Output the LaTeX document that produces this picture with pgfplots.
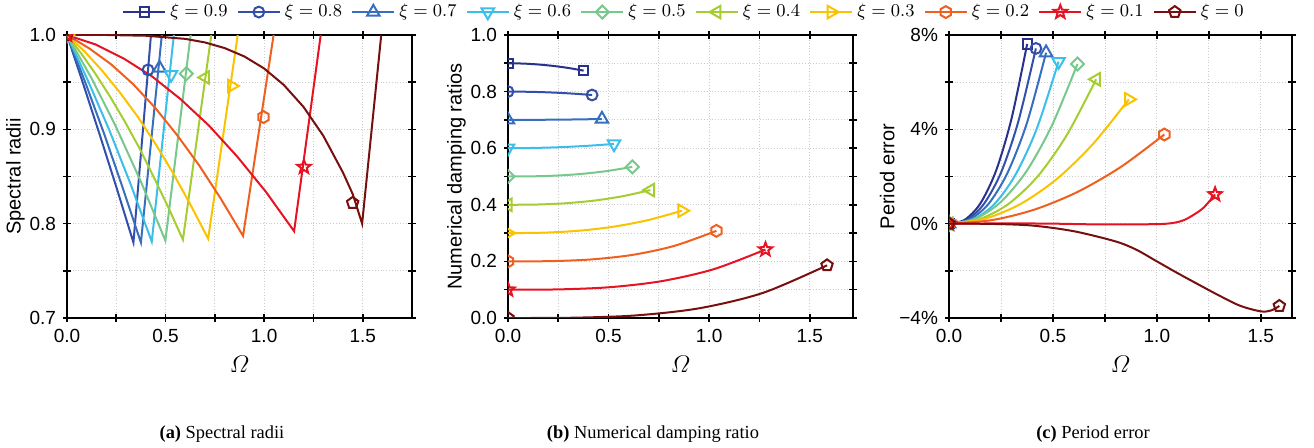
\documentclass[border=0pt]{standalone}
\usepackage{amsmath}
\usepackage{pgfplots}
\pgfplotsset{compat=1.18}
\usepackage{fontspec}
\setmainfont{Liberation Sans}
\newfontfamily\capfont{Liberation Serif}
\usetikzlibrary{plotmarks}

\definecolor{c09}{RGB}{40,50,140}
\definecolor{c08}{RGB}{50,80,170}
\definecolor{c07}{RGB}{55,110,190}
\definecolor{c06}{RGB}{60,190,235}
\definecolor{c05}{RGB}{120,200,140}
\definecolor{c04}{RGB}{165,205,50}
\definecolor{c03}{RGB}{250,195,0}
\definecolor{c02}{RGB}{240,95,30}
\definecolor{c01}{RGB}{230,20,35}
\definecolor{c00}{RGB}{120,15,15}

\pgfdeclareplotmark{hexagon}{%
  \pgfpathmoveto{\pgfpointpolar{90}{1.1\pgfplotmarksize}}%
  \pgfpathlineto{\pgfpointpolar{150}{1.1\pgfplotmarksize}}%
  \pgfpathlineto{\pgfpointpolar{210}{1.1\pgfplotmarksize}}%
  \pgfpathlineto{\pgfpointpolar{270}{1.1\pgfplotmarksize}}%
  \pgfpathlineto{\pgfpointpolar{330}{1.1\pgfplotmarksize}}%
  \pgfpathlineto{\pgfpointpolar{30}{1.1\pgfplotmarksize}}%
  \pgfpathclose\pgfusepathqstroke}
\pgfdeclareplotmark{ostar}{%
  \pgfpathmoveto{\pgfpointpolar{90}{1.3\pgfplotmarksize}}%
  \pgfpathlineto{\pgfpointpolar{126}{0.55\pgfplotmarksize}}%
  \pgfpathlineto{\pgfpointpolar{162}{1.3\pgfplotmarksize}}%
  \pgfpathlineto{\pgfpointpolar{198}{0.55\pgfplotmarksize}}%
  \pgfpathlineto{\pgfpointpolar{234}{1.3\pgfplotmarksize}}%
  \pgfpathlineto{\pgfpointpolar{270}{0.55\pgfplotmarksize}}%
  \pgfpathlineto{\pgfpointpolar{306}{1.3\pgfplotmarksize}}%
  \pgfpathlineto{\pgfpointpolar{342}{0.55\pgfplotmarksize}}%
  \pgfpathlineto{\pgfpointpolar{18}{1.3\pgfplotmarksize}}%
  \pgfpathlineto{\pgfpointpolar{54}{0.55\pgfplotmarksize}}%
  \pgfpathclose\pgfusepathqstroke}

\pgfplotsset{
  s9/.style={c09, line width=1pt, mark=square, mark size=2.3pt, mark options={solid, fill=none}},
  s8/.style={c08, line width=1pt, mark=o, mark size=2.7pt, mark options={solid, fill=none}},
  s7/.style={c07, line width=1pt, mark=triangle, mark size=3.6pt, mark options={solid, fill=none}},
  s6/.style={c06, line width=1pt, mark=triangle, mark size=3.6pt, mark options={solid, fill=none, rotate=180}},
  s5/.style={c05, line width=1pt, mark=square, mark size=2.3pt, mark options={solid, fill=none, rotate=45}},
  s4/.style={c04, line width=1pt, mark=triangle, mark size=3.6pt, mark options={solid, fill=none, rotate=90}},
  s3/.style={c03, line width=1pt, mark=triangle, mark size=3.6pt, mark options={solid, fill=none, rotate=-90}},
  s2/.style={c02, line width=1pt, mark=hexagon, mark size=2.7pt, mark options={solid, fill=none}},
  s1/.style={c01, line width=1pt, mark=ostar, mark size=2.7pt, mark options={solid, fill=none}},
  s0/.style={c00, line width=1pt, mark=pentagon, mark size=3pt, mark options={solid, fill=none}},
  myaxis/.style={
    scale only axis, width=172.5pt, height=141.5pt, anchor=south west,
    axis line style={line width=1pt},
    grid=both,
    grid style={densely dotted, gray!40, line width=0.4pt},
    minor grid style={densely dotted, gray!40, line width=0.4pt},
    major grid style={densely dotted, gray!40, line width=0.4pt},
    minor tick num=1,
    tick align=center, major tick length=4pt, minor tick length=4pt,
    every tick/.style={black, line width=0.8pt},
    xtick={0,0.5,1,1.5}, xticklabels={0.0,0.5,1.0,1.5},
    tick label style={font=\fontsize{9.5}{11}\selectfont},
    label style={font=\fontsize{10}{12}\selectfont},
    ylabel style={yshift=-4.5pt},
    xlabel={\fontsize{12}{14}\selectfont$\varOmega$},
    clip marker paths=true,
    xmin=0,
  }
}

\begin{document}
\begin{tikzpicture}
\path[use as bounding box] (0,0) rectangle (657pt,224pt);

% ---------------- (a) Spectral radii
\begin{axis}[myaxis, at={(33.5pt,65pt)}, xmax=1.75, ymin=0.7, ymax=1.0,
  ytick={0.7,0.8,0.9,1.0}, yticklabels={0.7,0.8,0.9,1.0},
  ylabel={Spectral radii}]
\addplot[s8, no marks] coordinates {(0,1) (0.084,0.947) (0.168,0.893) (0.253,0.837) (0.337,0.780) (0.426,1.0)};
\addplot[s7, no marks] coordinates {(0,1) (0.094,0.949) (0.188,0.8955) (0.281,0.839) (0.375,0.780) (0.481,1.0)};
\addplot[s6, no marks] coordinates {(0,1) (0.1075,0.951) (0.215,0.899) (0.3225,0.842) (0.430,0.781) (0.542,1.0)};
\addplot[s5, no marks] coordinates {(0,1) (0.125,0.954) (0.25,0.902) (0.374,0.845) (0.499,0.782) (0.627,1.0)};
\addplot[s4, no marks] coordinates {(0,1) (0.0735,0.980) (0.147,0.958) (0.2205,0.934) (0.294,0.908) (0.3675,0.880) (0.441,0.849) (0.5145,0.817) (0.588,0.783) (0.732,1.0)};
\addplot[s3, no marks] coordinates {(0,1) (0.0895,0.9825) (0.179,0.962) (0.2685,0.939) (0.358,0.9136) (0.4475,0.885) (0.537,0.854) (0.6265,0.820) (0.716,0.784) (0.866,1.0)};
\addplot[s2, no marks] coordinates {(0,1) (0.1116,0.986) (0.2233,0.969) (0.3349,0.948) (0.4465,0.923) (0.5581,0.894) (0.6698,0.862) (0.7814,0.826) (0.893,0.787) (1.048,1.0)};
\addplot[s1, no marks] coordinates {(0,1) (0.144,0.990) (0.288,0.975) (0.432,0.956) (0.576,0.932) (0.720,0.904) (0.864,0.871) (1.008,0.834) (1.152,0.792) (1.287,1.0)};
\addplot[s0, no marks] coordinates {(0,1) (0.2,1.0) (0.4,0.9992) (0.6,0.9959) (0.7,0.9921) (0.8,0.9861) (0.9,0.9772) (1.0,0.9645) (1.1,0.947) (1.2,0.9237) (1.3,0.8932) (1.4,0.8541) (1.45,0.831) (1.497,0.800) (1.594,1.0)};
% marks
\addplot[s8, only marks] coordinates {(0,1) (0.411,0.963)};
\addplot[s7, only marks] coordinates {(0,1) (0.469,0.965)};
\addplot[s6, only marks] coordinates {(0,1) (0.528,0.958)};
\addplot[s5, only marks] coordinates {(0,1) (0.605,0.959)};
\addplot[s4, only marks] coordinates {(0,1) (0.702,0.955)};
\addplot[s3, only marks] coordinates {(0,1) (0.835,0.946)};
\addplot[s2, only marks] coordinates {(0,1) (0.997,0.913)};
\addplot[s0, only marks] coordinates {(0,1) (1.449,0.822)};
\addplot[s1, only marks] coordinates {(0,1) (1.202,0.860)};
\end{axis}

% ---------------- (b) Numerical damping ratio
\begin{axis}[myaxis, at={(254pt,65pt)}, xmax=1.715, ymin=0, ymax=1.0,
  ytick={0,0.2,0.4,0.6,0.8,1.0}, yticklabels={0.0,0.2,0.4,0.6,0.8,1.0},
  ylabel={Numerical damping ratios},
  legend columns=10,
  legend style={at={(0.513,1.081)}, anchor=center, draw=none, fill=none,
    font=\fontsize{9.5}{11}\selectfont,
    /tikz/every even column/.append style={column sep=2.6pt}},
  legend image code/.code={\draw[mark repeat=2,mark phase=2,#1] plot coordinates {(0cm,0cm) (0.37cm,0cm) (0.74cm,0cm)};}]
\addlegendimage{s9}\addlegendentry{$\xi=0.9$}
\addlegendimage{s8}\addlegendentry{$\xi=0.8$}
\addlegendimage{s7}\addlegendentry{$\xi=0.7$}
\addlegendimage{s6}\addlegendentry{$\xi=0.6$}
\addlegendimage{s5}\addlegendentry{$\xi=0.5$}
\addlegendimage{s4}\addlegendentry{$\xi=0.4$}
\addlegendimage{s3}\addlegendentry{$\xi=0.3$}
\addlegendimage{s2}\addlegendentry{$\xi=0.2$}
\addlegendimage{s1}\addlegendentry{$\xi=0.1$}
\addlegendimage{s0}\addlegendentry{$\xi=0$}
\addplot[s9, smooth, mark indices={1,6}, forget plot] coordinates {(0,0.9) (0.075,0.899) (0.150,0.8958) (0.226,0.8906) (0.301,0.8834) (0.376,0.874)};
\addplot[s8, smooth, mark indices={1,6}, forget plot] coordinates {(0,0.8) (0.084,0.7995) (0.167,0.7981) (0.251,0.7957) (0.334,0.7923) (0.418,0.788)};
\addplot[s7, smooth, mark indices={1,6}, forget plot] coordinates {(0,0.7) (0.093,0.7) (0.187,0.7005) (0.280,0.701) (0.374,0.702) (0.467,0.703)};
\addplot[s6, smooth, mark indices={1,6}, forget plot] coordinates {(0,0.6) (0.105,0.6006) (0.211,0.6024) (0.316,0.6054) (0.422,0.6096) (0.527,0.615)};
\addplot[s5, smooth, mark indices={1,6}, forget plot] coordinates {(0,0.5) (0.124,0.5006) (0.247,0.5034) (0.371,0.5095) (0.494,0.5195) (0.618,0.534)};
\addplot[s4, smooth, mark indices={1,6}, forget plot] coordinates {(0,0.4) (0.142,0.4009) (0.283,0.4053) (0.425,0.4145) (0.566,0.4298) (0.708,0.452)};
\addplot[s3, smooth, mark indices={1,6}, forget plot] coordinates {(0,0.3) (0.173,0.3014) (0.346,0.308) (0.519,0.322) (0.692,0.3452) (0.865,0.379)};
\addplot[s2, smooth, mark indices={1,6}, forget plot] coordinates {(0,0.2) (0.207,0.2009) (0.414,0.2069) (0.622,0.2233) (0.829,0.2553) (1.036,0.308)};
\addplot[s1, smooth, mark indices={1,6}, forget plot] coordinates {(0,0.1) (0.256,0.1011) (0.512,0.1091) (0.768,0.1307) (1.024,0.1727) (1.28,0.242)};
\addplot[s0, smooth, mark indices={1,6}, forget plot] coordinates {(0,0) (0.317,0.0009) (0.634,0.009) (0.952,0.0345) (1.269,0.0891) (1.586,0.186)};
\end{axis}

% ---------------- (c) Period error
\begin{axis}[myaxis, at={(474.5pt,65pt)}, width=171.5pt, xmax=1.65, ymin=-4, ymax=8,
  ytick={-4,0,4,8}, yticklabels={−4\%,0\%,4\%,8\%},
  ylabel={Period error}]
\addplot[s9, smooth, mark indices={1,6}] coordinates {(0,0) (0.075,0.16) (0.150,0.846) (0.226,2.236) (0.301,4.461) (0.376,7.62)};
\addplot[s8, smooth, mark indices={1,6}] coordinates {(0,0) (0.084,0.156) (0.167,0.825) (0.251,2.181) (0.334,4.349) (0.418,7.43)};
\addplot[s7, smooth, mark indices={1,6}] coordinates {(0,0) (0.093,0.152) (0.187,0.805) (0.280,2.128) (0.374,4.244) (0.467,7.25)};
\addplot[s6, smooth, mark indices={1,6}] coordinates {(0,0) (0.105,0.144) (0.211,0.763) (0.316,2.016) (0.422,4.022) (0.527,6.87)};
\addplot[s5, smooth, mark indices={1,6}] coordinates {(0,0) (0.124,0.196) (0.247,0.902) (0.371,2.200) (0.494,4.143) (0.618,6.77)};
\addplot[s4, smooth, mark indices={1,6}] coordinates {(0,0) (0.142,0.177) (0.283,0.816) (0.425,1.989) (0.566,3.745) (0.708,6.12)};
\addplot[s3, smooth, mark indices={1,6}] coordinates {(0,0) (0.173,0.211) (0.346,0.843) (0.519,1.897) (0.692,3.373) (0.865,5.27)};
\addplot[s2, smooth, mark indices={1,6}] coordinates {(0,0) (0.207,0.151) (0.414,0.605) (0.622,1.361) (0.829,2.419) (1.036,3.78)};
\addplot[s1, smooth, mark indices={1,11}] coordinates {(0,0) (0.3,0.01) (0.5,0.0) (0.7,-0.03) (0.9,-0.03) (1.05,0.0) (1.13,0.15) (1.21,0.57) (1.25,0.92) (1.265,1.08) (1.28,1.24)};
\addplot[s0, smooth, mark indices={1,14}] coordinates {(0,0) (0.2,-0.01) (0.4,-0.08) (0.6,-0.32) (0.8,-0.75) (0.9,-1.1) (1.0,-1.6) (1.1,-2.1) (1.2,-2.58) (1.3,-3.05) (1.4,-3.48) (1.5,-3.72) (1.55,-3.68) (1.589,-3.49)};
\end{axis}

\node[font=\capfont\fontsize{9.2}{11}\selectfont] at (111pt,7pt) {\textbf{(a)} Spectral radii};
\node[font=\capfont\fontsize{9.2}{11}\selectfont] at (326.5pt,7pt) {\textbf{(b)} Numerical damping ratio};
\node[font=\capfont\fontsize{9.2}{11}\selectfont] at (546.5pt,7pt) {\textbf{(c)} Period error};
\end{tikzpicture}
\end{document}
